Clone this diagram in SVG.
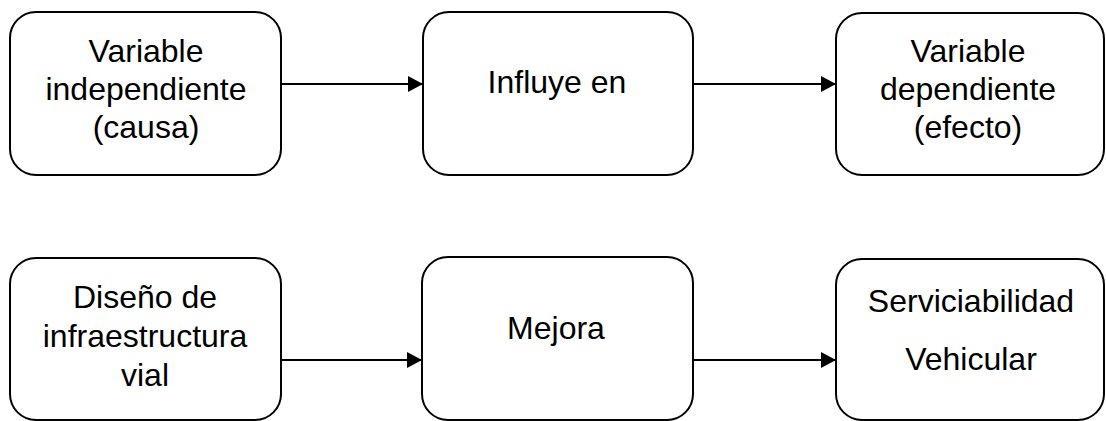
<svg xmlns="http://www.w3.org/2000/svg" width="1106" height="421" viewBox="0 0 1106 421">
<style>
.box{fill:#fff;stroke:#000;stroke-width:2}
.t{font-family:"Liberation Sans",Arial,sans-serif;font-size:32px;fill:#000;text-anchor:middle}
.c{stroke:#000;stroke-width:2;fill:none}
</style>
<defs>
<marker id="ah" markerWidth="15" markerHeight="16" refX="15" refY="8" orient="auto" markerUnits="userSpaceOnUse">
<path d="M0,0 L15,8 L0,16 Z" fill="#000"/>
</marker>
</defs>
<rect width="1106" height="421" fill="#fff"/>
<g id="n1"><rect class="box" x="10" y="12" width="271" height="163" rx="26"/>
<text class="t" x="146" y="62">Variable</text><text class="t" x="146" y="100">independiente</text><text class="t" x="146" y="138">(causa)</text></g>
<g id="n2"><rect class="box" x="423" y="12" width="270" height="163" rx="26"/>
<text class="t" x="557" y="93">Influye en</text></g>
<g id="n3"><rect class="box" x="836" y="13" width="268" height="162" rx="26"/>
<text class="t" x="968" y="62">Variable</text><text class="t" x="968" y="100">dependiente</text><text class="t" x="968" y="138">(efecto)</text></g>
<g id="n4"><rect class="box" x="10" y="258" width="271" height="162" rx="26"/>
<text class="t" x="145" y="308">Diseño de</text><text class="t" x="145" y="347">infraestructura</text><text class="t" x="145" y="386">vial</text></g>
<g id="n5"><rect class="box" x="422" y="257" width="271" height="163" rx="26"/>
<text class="t" x="556" y="339">Mejora</text></g>
<g id="n6"><rect class="box" x="836" y="259" width="268" height="161" rx="26"/>
<text class="t" x="971" y="312">Serviciabilidad</text><text class="t" x="971" y="370">Vehicular</text></g>
<g id="connectors">
<line class="c" x1="281" y1="84" x2="423" y2="84" marker-end="url(#ah)"/>
<line class="c" x1="693" y1="84" x2="836" y2="84" marker-end="url(#ah)"/>
<line class="c" x1="281" y1="360" x2="422" y2="360" marker-end="url(#ah)"/>
<line class="c" x1="693" y1="360" x2="836" y2="360" marker-end="url(#ah)"/>
</g>
</svg>
